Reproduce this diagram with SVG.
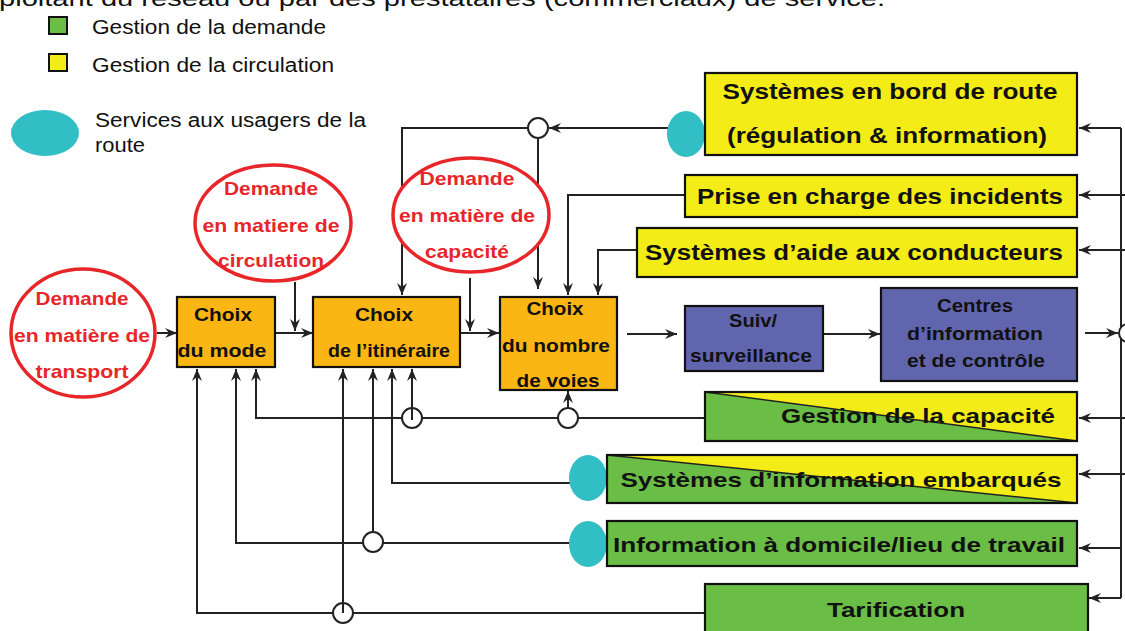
<svg xmlns="http://www.w3.org/2000/svg" width="1125" height="631" viewBox="0 0 1125 631">
<defs>
<style>
.ln{fill:none;stroke:#222;stroke-width:2}
.arr{marker-end:url(#ah)}
.jn{fill:#fff;stroke:#222;stroke-width:2}
.bx{stroke:#111;stroke-width:2.2}
.or{fill:#FCB614}
.ye{fill:#F4EC17}
.gr{fill:#6ABD45}
.bl{fill:#6165AD}
.cy{fill:#31BFC5}
.red{fill:#fff;stroke:#E8262A;stroke-width:3.5}
.t{font-family:"Liberation Sans",Arial,sans-serif;fill:#111}
.b{font-weight:bold;text-anchor:middle}
.rt{font-family:"Liberation Sans",Arial,sans-serif;font-weight:bold;fill:#E8262A;text-anchor:middle;font-size:18.5px}
</style>
<marker id="ah" markerUnits="userSpaceOnUse" markerWidth="14" markerHeight="12" refX="12" refY="6" orient="auto">
<path d="M0,1 L12,6 L0,11 L4,6 z" fill="#222"/>
</marker>
</defs>
<rect width="1125" height="631" fill="#fff"/>

<text class="t" x="-1" y="6" font-size="22" textLength="886" lengthAdjust="spacingAndGlyphs">ploitant du réseau ou par des prestataires (commerciaux) de service.</text>

<g id="legend">
<rect x="49" y="17" width="18" height="17" class="gr" stroke="#111" stroke-width="2"/>
<text class="t" x="92" y="34" font-size="20" textLength="234" lengthAdjust="spacingAndGlyphs">Gestion de la demande</text>
<rect x="49" y="54" width="18" height="17" class="ye" stroke="#111" stroke-width="2"/>
<text class="t" x="92" y="72" font-size="20" textLength="242" lengthAdjust="spacingAndGlyphs">Gestion de la circulation</text>
<ellipse cx="45" cy="133" rx="34" ry="23" class="cy"/>
<text class="t" x="95" y="127" font-size="20" textLength="271" lengthAdjust="spacingAndGlyphs">Services aux usagers de la</text>
<text class="t" x="95" y="152" font-size="20" textLength="50" lengthAdjust="spacingAndGlyphs">route</text>
</g>

<g id="connectors">
<path class="ln arr" d="M157,333 H177"/>
<path class="ln arr" d="M275,333 H313"/>
<path class="ln arr" d="M295,282 V331"/>
<path class="ln arr" d="M460,333 H499"/>
<path class="ln arr" d="M470,278 V331"/>
<path class="ln arr" d="M627,334 H677"/>
<path class="ln arr" d="M823,334 H880"/>
<path class="ln arr" d="M1085,333 H1118"/>
<path class="ln" d="M1121,128 V598"/>
<path class="ln arr" d="M1121,128 H1079"/>
<path class="ln arr" d="M1125,195 H1079"/>
<path class="ln arr" d="M1125,250 H1079"/>
<path class="ln arr" d="M1125,418 H1079"/>
<path class="ln arr" d="M1125,474 H1079"/>
<path class="ln arr" d="M1121,548 H1079"/>
<path class="ln arr" d="M1121,598 H1089"/>
<circle cx="1128" cy="333" r="9" class="jn"/>

<path class="ln arr" d="M668,128 H549"/>
<path class="ln arr" d="M528,128 H402 V295"/>
<path class="ln arr" d="M538,138 V289"/>
<circle cx="538" cy="128" r="10" class="jn"/>
<path class="ln arr" d="M685,195 H568 V295"/>
<path class="ln arr" d="M637,250 H598 V295"/>

<path class="ln arr" d="M705,418 H256 V369"/>
<circle cx="568" cy="418" r="10" class="jn"/>
<path class="ln arr" d="M568,408 V391"/>
<circle cx="412" cy="418" r="10" class="jn"/>
<path class="ln arr" d="M412,420 V369"/>
<path class="ln arr" d="M570,483 H392 V369"/>
<path class="ln arr" d="M570,543 H236 V369"/>
<circle cx="373" cy="542" r="10" class="jn"/>
<path class="ln arr" d="M373,532 V369"/>
<path class="ln arr" d="M705,613 H197 V369"/>
<circle cx="343" cy="613" r="10" class="jn"/>
<path class="ln arr" d="M343,613 V369"/>
</g>

<g id="demande-transport">
<ellipse cx="83" cy="333" rx="72" ry="64" class="red"/>
<text class="rt" x="82" y="305" textLength="93" lengthAdjust="spacingAndGlyphs">Demande</text>
<text class="rt" x="82" y="342" textLength="136" lengthAdjust="spacingAndGlyphs">en matière de</text>
<text class="rt" x="82" y="378" textLength="93" lengthAdjust="spacingAndGlyphs">transport</text>
</g>
<g id="demande-circulation">
<ellipse cx="273" cy="223" rx="78" ry="58" class="red"/>
<text class="rt" x="271" y="195" textLength="94" lengthAdjust="spacingAndGlyphs">Demande</text>
<text class="rt" x="271" y="232" textLength="137" lengthAdjust="spacingAndGlyphs">en matiere de</text>
<text class="rt" x="271" y="267" textLength="106" lengthAdjust="spacingAndGlyphs">circulation</text>
</g>
<g id="demande-capacite">
<ellipse cx="471" cy="215" rx="78" ry="57" class="red"/>
<text class="rt" x="467" y="185" textLength="95" lengthAdjust="spacingAndGlyphs">Demande</text>
<text class="rt" x="467" y="222" textLength="136" lengthAdjust="spacingAndGlyphs">en matière de</text>
<text class="rt" x="467" y="258" textLength="84" lengthAdjust="spacingAndGlyphs">capacité</text>
</g>

<g id="choix-mode">
<rect x="177" y="297" width="98" height="70" class="or bx"/>
<text class="t b" x="223" y="321" font-size="18.5" textLength="58" lengthAdjust="spacingAndGlyphs">Choix</text>
<text class="t b" x="222" y="357" font-size="18.5" textLength="89" lengthAdjust="spacingAndGlyphs">du mode</text>
</g>
<g id="choix-itineraire">
<rect x="313" y="297" width="147" height="70" class="or bx"/>
<text class="t b" x="384" y="321" font-size="18.5" textLength="58" lengthAdjust="spacingAndGlyphs">Choix</text>
<text class="t b" x="389" y="357" font-size="18.5" textLength="122" lengthAdjust="spacingAndGlyphs">de l’itinéraire</text>
</g>
<g id="choix-voies">
<rect x="500" y="297" width="117" height="93" class="or bx"/>
<text class="t b" x="555" y="315" font-size="18.5" textLength="57" lengthAdjust="spacingAndGlyphs">Choix</text>
<text class="t b" x="556" y="352" font-size="18.5" textLength="108" lengthAdjust="spacingAndGlyphs">du nombre</text>
<text class="t b" x="558" y="387" font-size="18.5" textLength="83" lengthAdjust="spacingAndGlyphs">de voies</text>
</g>

<g id="suivi">
<rect x="685" y="306" width="138" height="65" class="bl bx"/>
<text class="t b" x="753" y="327" font-size="18" textLength="48" lengthAdjust="spacingAndGlyphs">Suiv/</text>
<text class="t b" x="751" y="362" font-size="18" textLength="122" lengthAdjust="spacingAndGlyphs">surveillance</text>
</g>
<g id="centres">
<rect x="881" y="288" width="196" height="93" class="bl bx"/>
<text class="t b" x="975" y="312" font-size="18" textLength="76" lengthAdjust="spacingAndGlyphs">Centres</text>
<text class="t b" x="975" y="340" font-size="18" textLength="136" lengthAdjust="spacingAndGlyphs">d’information</text>
<text class="t b" x="976" y="367" font-size="18" textLength="138" lengthAdjust="spacingAndGlyphs">et de contrôle</text>
</g>

<g id="bord-de-route">
<ellipse cx="686" cy="134" rx="19" ry="23" class="cy"/>
<rect x="705" y="73" width="372" height="82" class="ye bx"/>
<text class="t b" x="890" y="99" font-size="22.5" textLength="335" lengthAdjust="spacingAndGlyphs">Systèmes en bord de route</text>
<text class="t b" x="887" y="143" font-size="22.5" textLength="320" lengthAdjust="spacingAndGlyphs">(régulation &amp; information)</text>
</g>
<g id="incidents">
<rect x="685" y="175" width="392" height="42" class="ye bx"/>
<text class="t b" x="880" y="204" font-size="22.5" textLength="366" lengthAdjust="spacingAndGlyphs">Prise en charge des incidents</text>
</g>
<g id="aide-conducteurs">
<rect x="637" y="228" width="440" height="49" class="ye bx"/>
<text class="t b" x="854" y="260" font-size="22.5" textLength="418" lengthAdjust="spacingAndGlyphs">Systèmes d’aide aux conducteurs</text>
</g>

<g id="gestion-capacite">
<polygon points="705,392 1077,392 1077,441" class="ye"/>
<polygon points="705,392 1077,441 705,441" class="gr"/>
<line x1="705" y1="392" x2="1077" y2="441" stroke="#222" stroke-width="1.5"/>
<rect x="705" y="392" width="372" height="49" fill="none" class="bx"/>
<text class="t b" x="918" y="423" font-size="21" textLength="274" lengthAdjust="spacingAndGlyphs">Gestion de la capacité</text>
</g>
<g id="info-embarques">
<ellipse cx="588" cy="478" rx="19" ry="23" class="cy"/>
<polygon points="607,455 1077,455 1077,503" class="ye"/>
<polygon points="607,455 1077,503 607,503" class="gr"/>
<line x1="607" y1="455" x2="1077" y2="503" stroke="#222" stroke-width="1.5"/>
<rect x="607" y="455" width="470" height="48" fill="none" class="bx"/>
<text class="t b" x="841" y="487" font-size="21" textLength="441" lengthAdjust="spacingAndGlyphs">Systèmes d’information embarqués</text>
</g>
<g id="info-domicile">
<ellipse cx="588" cy="544" rx="19" ry="23" class="cy"/>
<rect x="607" y="521" width="470" height="45" class="gr bx"/>
<text class="t b" x="839" y="552" font-size="21" textLength="452" lengthAdjust="spacingAndGlyphs">Information à domicile/lieu de travail</text>
</g>
<g id="tarification">
<rect x="705" y="584" width="383" height="60" class="gr bx"/>
<text class="t b" x="896" y="617" font-size="21" textLength="138" lengthAdjust="spacingAndGlyphs">Tarification</text>
</g>
</svg>
